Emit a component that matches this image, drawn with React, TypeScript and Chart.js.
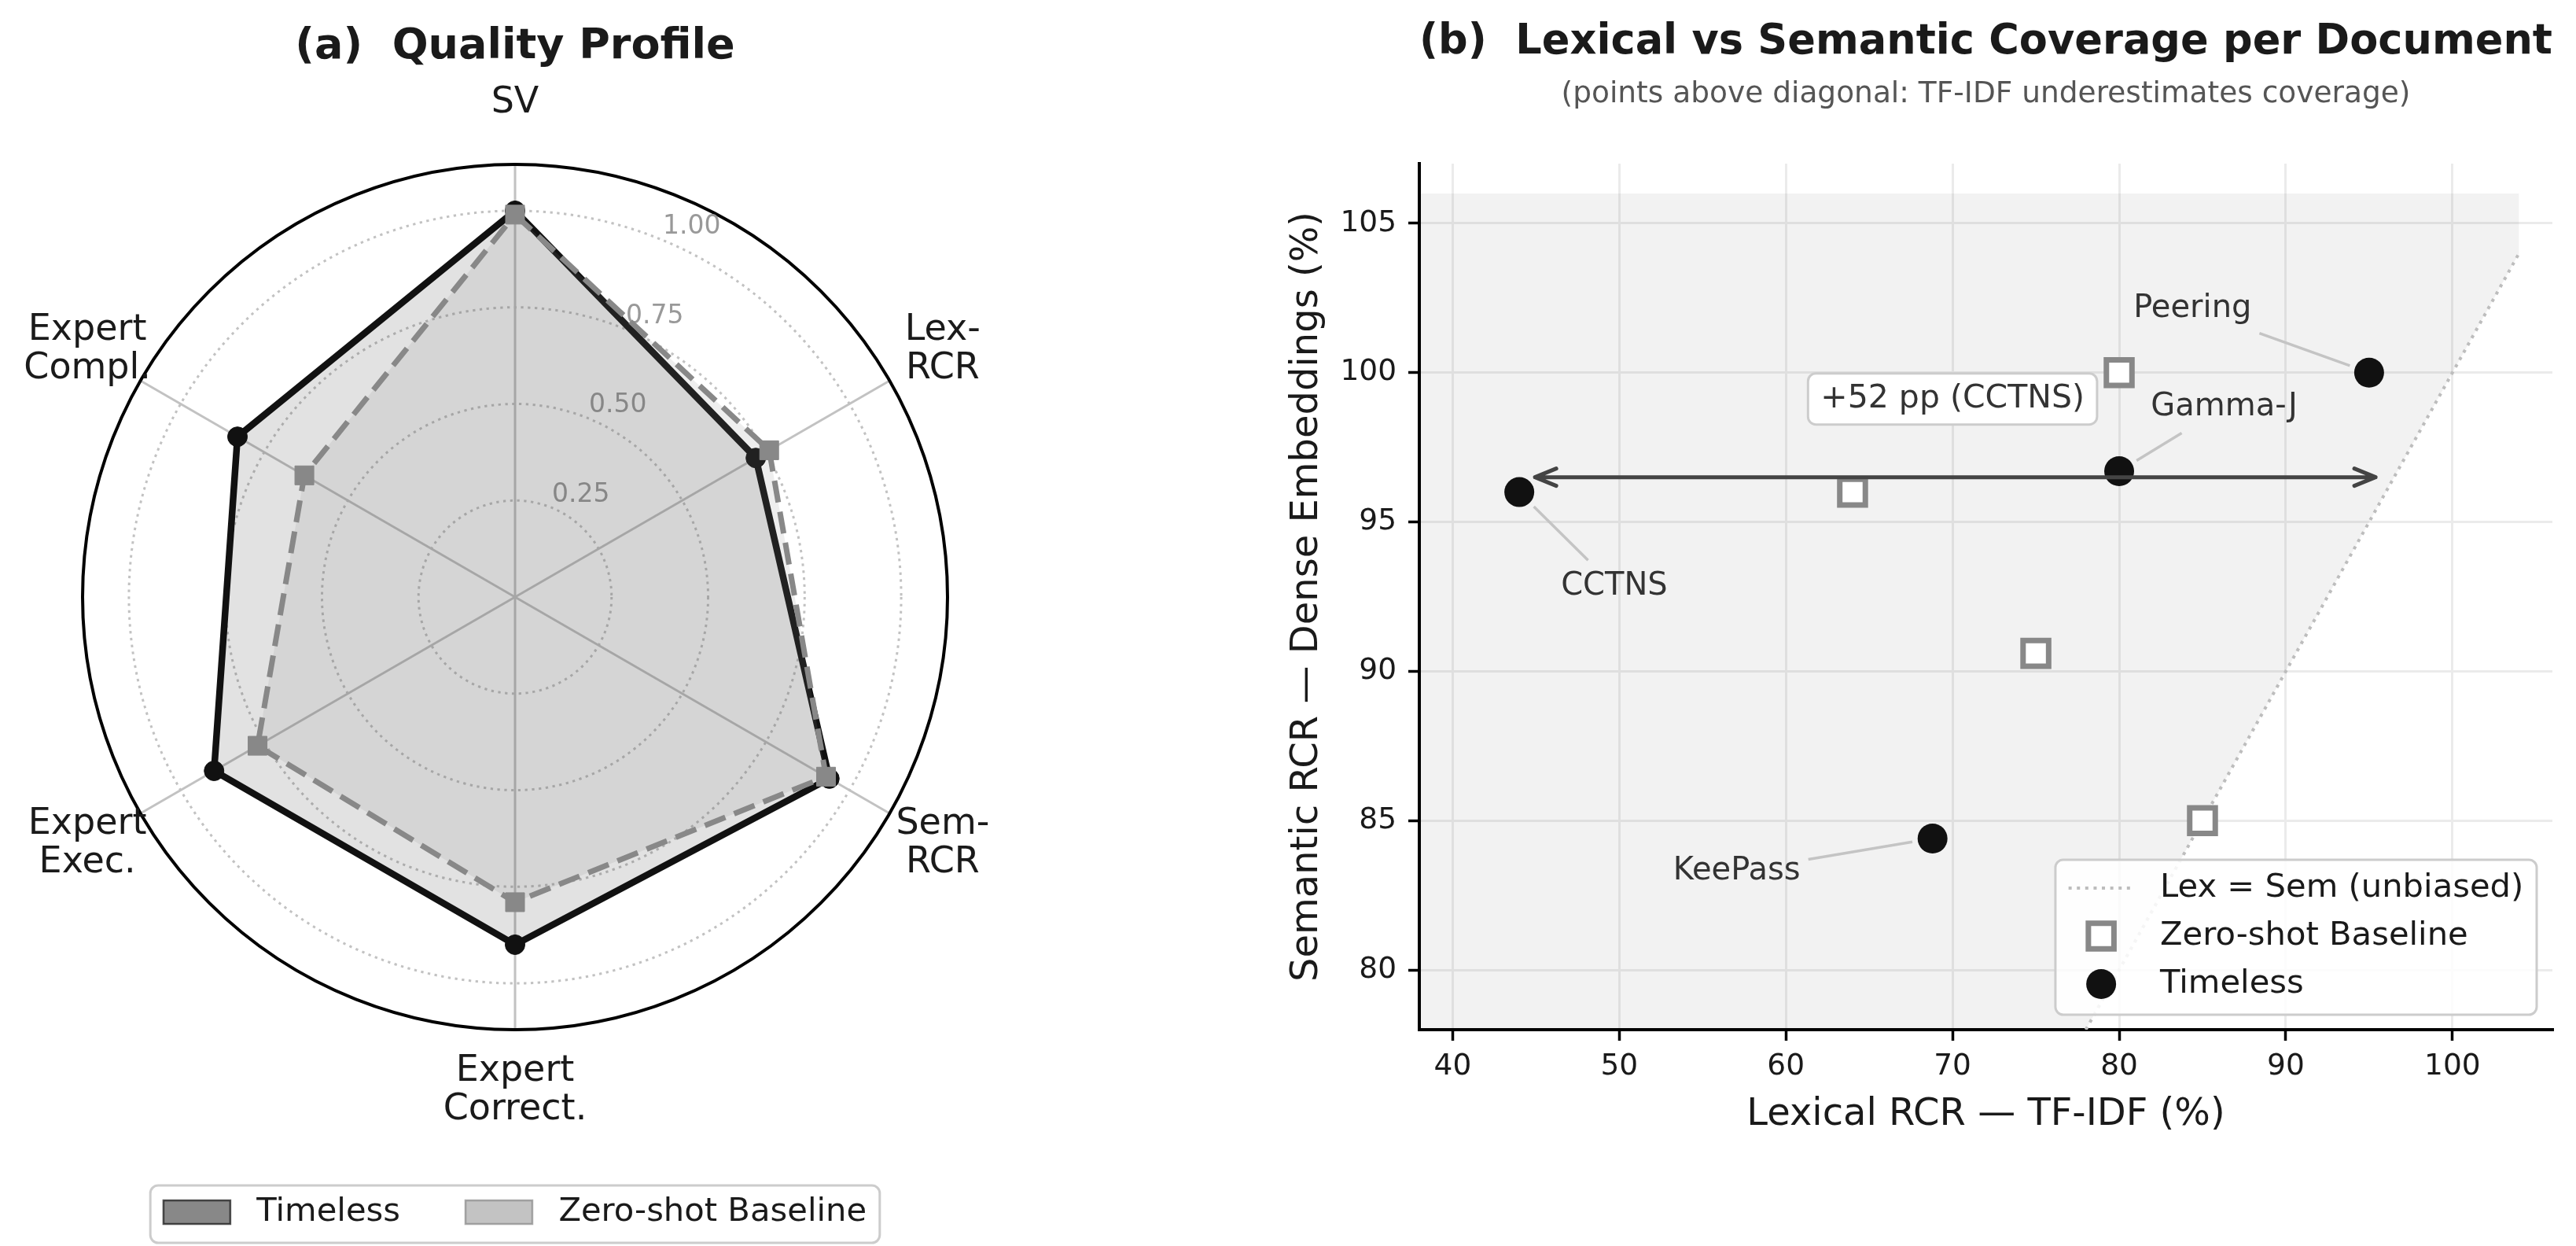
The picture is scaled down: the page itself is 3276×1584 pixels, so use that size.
import React, { useEffect, useRef } from 'react';
import { Chart, registerables } from 'chart.js';

Chart.register(...registerables);

const FONT = "'DejaVu Sans', sans-serif";
Chart.defaults.font.family = FONT;

const INK = '#1a1a1a';

// ---- (a) quality profile ----
const PROFILE_AXES = [['SV'], ['Lex-', 'RCR'], ['Sem-', 'RCR'], ['Expert', 'Correct.'], ['Expert', 'Exec.'], ['Expert', 'Compl.']];
const TIMELESS_PROFILE = [1.0, 0.72, 0.94, 0.9, 0.9, 0.83];
const BASELINE_PROFILE = [0.99, 0.76, 0.93, 0.79, 0.77, 0.63];
const RING_TICKS = [0.25, 0.5, 0.75, 1.0];
const RING_TICK_LABELS = ['0.25', '0.50', '0.75', '1.00'];
const PROFILE_MAX = 1.12;

// ---- (b) lexical vs semantic coverage per document ----
const DOCS = ['CCTNS', 'Gamma-J', 'Peering', 'KeePass'];
const TIMELESS_LEX = [44, 80, 95, 68.8];
const TIMELESS_SEM = [96, 96.7, 100, 84.4];
const BASELINE_LEX = [64, 80, 75, 85];
const BASELINE_SEM = [96, 100, 90.6, 85];
const X_TICKS = [40, 50, 60, 70, 80, 90, 100];
const Y_TICKS = [80, 85, 90, 95, 100, 105];
const X_RANGE = [38, 106];
const Y_RANGE = [78, 107];
const DIAGONAL = [78, 104];
const SHADE_X = [38, 104];
const SHADE_TOP = 106;

// annotation placement (data coordinates)
const DOC_LABEL_AT = [
  [49.7, 92.85],
  [86.3, 98.85],
  [84.4, 102.13],
  [57.05, 83.3],
];
const GAP_LABEL_AT = [70, 99.12];
const GAP_ARROW_LIFT = 0.5;

const SERIES = {
  timeless: { rgb: '17,17,17', solid: '#111111' },
  baseline: { rgb: '136,136,136', solid: '#888888' },
};

function roundBox(ctx: CanvasRenderingContext2D, x: number, y: number, w: number, h: number, r: number, fill: string, stroke: string, lw: number) {
  ctx.beginPath();
  (ctx as any).roundRect(x, y, w, h, r);
  ctx.fillStyle = fill;
  ctx.fill();
  ctx.lineWidth = lw;
  ctx.strokeStyle = stroke;
  ctx.stroke();
}

// rings, axis labels, ring values, outer frame and legend for the profile chart
const profileDecor = {
  id: 'profileDecor',
  beforeDatasetsDraw(chart: any) {
    const { ctx } = chart;
    const r = chart.scales.r;
    const cx = r.xCenter;
    const cy = r.yCenter;
    ctx.save();
    ctx.beginPath();
    ctx.arc(cx, cy, r.getDistanceFromCenterForValue(PROFILE_MAX), 0, Math.PI * 2);
    ctx.lineWidth = 4;
    ctx.strokeStyle = '#000';
    ctx.stroke();

    ctx.font = `33px ${FONT}`;
    ctx.fillStyle = '#999999';
    ctx.textAlign = 'left';
    ctx.textBaseline = 'bottom';
    const a = (22.5 * Math.PI) / 180;
    RING_TICKS.forEach((v, i) => {
      const d = r.getDistanceFromCenterForValue(v);
      ctx.fillText(RING_TICK_LABELS[i], cx + d * Math.sin(a), cy - d * Math.cos(a));
    });

    ctx.font = `46px ${FONT}`;
    ctx.fillStyle = INK;
    ctx.textAlign = 'center';
    ctx.textBaseline = 'middle';
    const labelR = r.drawingArea + 78;
    chart.data.labels.forEach((lines: string[], i: number) => {
      const p = r.getPointPosition(i, labelR);
      const n = lines.length;
      lines.forEach((t, k) => ctx.fillText(t, p.x, p.y + (k - (n - 1) / 2) * 49));
    });
    ctx.restore();
  },
  afterDraw(chart: any) {
    const { ctx, chartArea } = chart;
    const items = [
      { label: chart.data.datasets[0].label, c: SERIES.timeless.rgb },
      { label: chart.data.datasets[1].label, c: SERIES.baseline.rgb },
    ];
    ctx.save();
    ctx.font = `41.7px ${FONT}`;
    const pad = 16.7, hw = 85, hh = 30, gap = 33.4, col = 83;
    const widths = items.map((it) => ctx.measureText(it.label).width);
    let total = pad * 2 + col * (items.length - 1);
    widths.forEach((w) => (total += hw + gap + w));
    const cx = (chartArea.left + chartArea.right) / 2;
    const left = cx - total / 2;
    const top = chartArea.bottom + 198;
    const h = 73;
    roundBox(ctx, left, top, total, h, 10, 'rgba(255,255,255,0.9)', '#cccccc', 3);
    const mid = top + 34;
    let x = left + pad;
    items.forEach((it, i) => {
      ctx.fillStyle = `rgba(${it.c},0.5)`;
      ctx.fillRect(x, mid - hh / 2, hw, hh);
      ctx.lineWidth = 2.5;
      ctx.strokeStyle = `rgba(${it.c},0.7)`;
      ctx.strokeRect(x, mid - hh / 2, hw, hh);
      x += hw + gap;
      ctx.fillStyle = INK;
      ctx.textAlign = 'left';
      ctx.textBaseline = 'middle';
      ctx.fillText(it.label, x, mid);
      x += widths[i] + col;
    });
    ctx.restore();
  },
};

// document callouts, gap arrow and legend for the coverage scatter
const coverageDecor = {
  id: 'coverageDecor',
  afterDatasetsDraw(chart: any) {
    const { ctx } = chart;
    const { x, y } = chart.scales;
    ctx.save();
    ctx.font = `40px ${FONT}`;
    ctx.textAlign = 'center';
    ctx.textBaseline = 'middle';
    DOCS.forEach((name, i) => {
      const px = x.getPixelForValue(TIMELESS_LEX[i]);
      const py = y.getPixelForValue(TIMELESS_SEM[i]);
      const tx = x.getPixelForValue(DOC_LABEL_AT[i][0]);
      const ty = y.getPixelForValue(DOC_LABEL_AT[i][1]);
      const w = ctx.measureText(name).width;
      const halfW = w / 2 + 10;
      const halfH = 33;
      const dx = px - tx;
      const dy = py - ty;
      const t0 = Math.min(halfW / Math.abs(dx || 1e-6), halfH / Math.abs(dy || 1e-6));
      const t1 = 1 - 26 / Math.hypot(dx, dy);
      ctx.beginPath();
      ctx.moveTo(tx + dx * t0, ty + dy * t0);
      ctx.lineTo(tx + dx * t1, ty + dy * t1);
      ctx.strokeStyle = '#c4c4c4';
      ctx.lineWidth = 3.5;
      ctx.stroke();
      ctx.fillStyle = '#333333';
      ctx.fillText(name, tx, ty);
    });

    // lexical-to-semantic gap for the first document
    const gap = TIMELESS_SEM[0] - TIMELESS_LEX[0];
    const ay = y.getPixelForValue(TIMELESS_SEM[0] + GAP_ARROW_LIFT);
    const xa = x.getPixelForValue(TIMELESS_LEX[0]) + 20;
    const xb = x.getPixelForValue(TIMELESS_SEM[0]) - 13;
    ctx.strokeStyle = '#444444';
    ctx.lineWidth = 5;
    ctx.lineJoin = 'round';
    ctx.lineCap = 'round';
    ctx.beginPath();
    ctx.moveTo(xa, ay);
    ctx.lineTo(xb, ay);
    ctx.moveTo(xa + 27, ay - 11);
    ctx.lineTo(xa, ay);
    ctx.lineTo(xa + 27, ay + 11);
    ctx.moveTo(xb - 27, ay - 11);
    ctx.lineTo(xb, ay);
    ctx.lineTo(xb - 27, ay + 11);
    ctx.stroke();

    ctx.font = `41px ${FONT}`;
    const text = `+${gap} pp (${DOCS[0]})`;
    const gx = x.getPixelForValue(GAP_LABEL_AT[0]);
    const gy = y.getPixelForValue(GAP_LABEL_AT[1]);
    const tw = ctx.measureText(text).width;
    roundBox(ctx, gx - tw / 2 - 16, gy - 32.5, tw + 32, 65, 10, '#ffffff', '#cccccc', 3);
    ctx.fillStyle = '#333333';
    ctx.fillText(text, gx, gy);
    ctx.restore();
  },
  afterDraw(chart: any) {
    const { ctx, chartArea } = chart;
    const ds = chart.data.datasets;
    const rows = [ds[1], ds[2], ds[3]];
    ctx.save();
    ctx.font = `41.7px ${FONT}`;
    const pad = 16.7, hw = 83, gap = 33.4, pitch = 61;
    const tw = Math.max(...rows.map((d: any) => ctx.measureText(d.label).width));
    const w = pad * 2 + hw + gap + tw;
    const h = 197;
    const right = chartArea.right - 20;
    const bottom = chartArea.bottom - 19;
    const left = right - w;
    const top = bottom - h;
    roundBox(ctx, left, top, w, h, 10, 'rgba(255,255,255,0.85)', '#cccccc', 3);
    const hx = left + pad;
    rows.forEach((d: any, i: number) => {
      const my = top + 36 + pitch * i;
      const mx = hx + hw / 2;
      if (i === 0) {
        ctx.beginPath();
        ctx.setLineDash(d.borderDash);
        ctx.moveTo(hx, my);
        ctx.lineTo(hx + hw, my);
        ctx.strokeStyle = d.borderColor;
        ctx.lineWidth = d.borderWidth;
        ctx.stroke();
        ctx.setLineDash([]);
      } else if (d.pointStyle === 'rect') {
        const s = d.pointRadius * Math.SQRT1_2;
        ctx.fillStyle = d.pointBackgroundColor;
        ctx.fillRect(mx - s, my - s, 2 * s, 2 * s);
        ctx.lineWidth = d.pointBorderWidth;
        ctx.strokeStyle = d.pointBorderColor;
        ctx.strokeRect(mx - s, my - s, 2 * s, 2 * s);
      } else {
        ctx.beginPath();
        ctx.arc(mx, my, d.pointRadius, 0, Math.PI * 2);
        ctx.fillStyle = d.pointBackgroundColor;
        ctx.fill();
      }
      ctx.fillStyle = INK;
      ctx.textAlign = 'left';
      ctx.textBaseline = 'middle';
      ctx.fillText(d.label, hx + hw + gap, my);
    });
    ctx.restore();
  },
};

function profileConfig(): any {
  return {
    type: 'radar',
    data: {
      labels: PROFILE_AXES,
      datasets: [
        {
          label: 'Timeless',
          data: TIMELESS_PROFILE,
          order: 2,
          borderColor: SERIES.timeless.solid,
          borderWidth: 8.5,
          backgroundColor: `rgba(${SERIES.timeless.rgb},0.12)`,
          fill: true,
          tension: 0,
          pointStyle: 'circle',
          pointRadius: 12.5,
          pointBackgroundColor: SERIES.timeless.solid,
          pointBorderColor: SERIES.timeless.solid,
          pointBorderWidth: 1,
        },
        {
          label: 'Zero-shot Baseline',
          data: BASELINE_PROFILE,
          order: 1,
          borderColor: SERIES.baseline.solid,
          borderWidth: 7,
          borderDash: [28, 12],
          backgroundColor: `rgba(${SERIES.baseline.rgb},0.14)`,
          fill: true,
          tension: 0,
          pointStyle: 'rect',
          pointRadius: 17,
          pointBackgroundColor: SERIES.baseline.solid,
          pointBorderColor: SERIES.baseline.solid,
          pointBorderWidth: 1,
        },
      ],
    },
    options: {
      responsive: false,
      animation: false,
      layout: { padding: { top: 0, bottom: 275, left: 0, right: 0 } },
      plugins: {
        legend: { display: false },
        tooltip: { enabled: false },
        title: {
          display: true,
          text: '(a)  Quality Profile',
          color: INK,
          font: { size: 54, weight: 'bold', lineHeight: 1.0 },
          padding: { top: 33, bottom: 122 },
        },
      },
      scales: {
        r: {
          min: 0,
          max: PROFILE_MAX,
          ticks: { display: false, stepSize: 0.25, includeBounds: false },
          pointLabels: { display: false },
          grid: { circular: true, color: '#c2c2c2', lineWidth: 3 },
          border: { dash: [3.3, 5.5] },
          angleLines: { color: '#c2c2c2', lineWidth: 3 },
        },
      },
    },
    plugins: [profileDecor],
  };
}

function coverageConfig(): any {
  const tickFont = { size: 37.5 };
  return {
    type: 'scatter',
    data: {
      datasets: [
        {
          type: 'line',
          label: 'shade',
          data: SHADE_X.map((v) => ({ x: v, y: v })),
          fill: { value: SHADE_TOP },
          backgroundColor: 'rgba(0,0,0,0.05)',
          borderWidth: 0,
          pointRadius: 0,
          order: 4,
        },
        {
          type: 'line',
          label: 'Lex = Sem (unbiased)',
          data: DIAGONAL.map((v) => ({ x: v, y: v })),
          fill: false,
          borderColor: '#bdbdbd',
          borderWidth: 4,
          borderDash: [4, 6.6],
          pointRadius: 0,
          order: 3,
        },
        {
          label: 'Zero-shot Baseline',
          data: BASELINE_LEX.map((v, i) => ({ x: v, y: BASELINE_SEM[i] })),
          pointStyle: 'rect',
          pointRadius: 23,
          pointBackgroundColor: '#ffffff',
          pointBorderColor: '#888888',
          pointBorderWidth: 7,
          backgroundColor: '#ffffff',
          borderColor: '#888888',
          order: 2,
        },
        {
          label: 'Timeless',
          data: TIMELESS_LEX.map((v, i) => ({ x: v, y: TIMELESS_SEM[i] })),
          pointStyle: 'circle',
          pointRadius: 19,
          pointBackgroundColor: '#111111',
          pointBorderColor: '#111111',
          pointBorderWidth: 0,
          backgroundColor: '#111111',
          borderColor: '#111111',
          order: 1,
        },
      ],
    },
    options: {
      responsive: false,
      animation: false,
      layout: { padding: { top: 0, bottom: 115, left: 0, right: 30 } },
      plugins: {
        legend: { display: false },
        tooltip: { enabled: false },
        title: {
          display: true,
          fullSize: false,
          text: '(b)  Lexical vs Semantic Coverage per Document',
          color: INK,
          font: { size: 54, weight: 'bold', lineHeight: 1.0 },
          padding: { top: 27, bottom: 0 },
        },
        subtitle: {
          display: true,
          fullSize: false,
          text: '(points above diagonal: TF-IDF underestimates coverage)',
          color: '#555555',
          font: { size: 37.5, lineHeight: 1.0 },
          padding: { top: 21, bottom: 68.5 },
        },
      },
      scales: {
        x: {
          type: 'linear',
          min: X_RANGE[0],
          max: X_RANGE[1],
          afterBuildTicks: (s: any) => {
            s.ticks = X_TICKS.map((v) => ({ value: v }));
          },
          afterFit: (s: any) => {
            s.height = 160;
          },
          ticks: { font: tickFont, color: INK, padding: 11, autoSkip: false, maxRotation: 0 },
          grid: { color: '#ebebeb', lineWidth: 3, tickLength: 14, tickColor: '#000', tickWidth: 3.5 },
          border: { color: '#000', width: 4 },
          title: {
            display: true,
            text: 'Lexical RCR — TF-IDF (%)',
            color: INK,
            font: { size: 48 },
            padding: { top: 0, bottom: 23 },
          },
        },
        y: {
          type: 'linear',
          min: Y_RANGE[0],
          max: Y_RANGE[1],
          afterBuildTicks: (s: any) => {
            s.ticks = Y_TICKS.map((v) => ({ value: v }));
          },
          afterFit: (s: any) => {
            s.width = 495;
          },
          ticks: { font: tickFont, color: INK, padding: 15, autoSkip: false },
          grid: { color: '#ebebeb', lineWidth: 3, tickLength: 14, tickColor: '#000', tickWidth: 3.5 },
          border: { color: '#000', width: 4 },
          title: {
            display: true,
            text: 'Semantic RCR — Dense Embeddings (%)',
            color: INK,
            font: { size: 48 },
            padding: { top: 324, bottom: 0 },
          },
        },
      },
    },
    plugins: [coverageDecor],
  };
}

export default function App() {
  const leftRef = useRef<HTMLCanvasElement>(null);
  const rightRef = useRef<HTMLCanvasElement>(null);

  useEffect(() => {
    const a = new Chart(leftRef.current as HTMLCanvasElement, profileConfig());
    const b = new Chart(rightRef.current as HTMLCanvasElement, coverageConfig());
    return () => {
      a.destroy();
      b.destroy();
    };
  }, []);

  return (
    <div style={{ position: 'absolute', left: 0, top: 0, width: 3276, height: 1584, background: '#ffffff', overflow: 'hidden' }}>
      <canvas ref={leftRef} width={1310} height={1584} style={{ position: 'absolute', left: 0, top: 0, width: 1310, height: 1584 }} />
      <canvas ref={rightRef} width={1966} height={1584} style={{ position: 'absolute', left: 1310, top: 0, width: 1966, height: 1584 }} />
    </div>
  );
}
